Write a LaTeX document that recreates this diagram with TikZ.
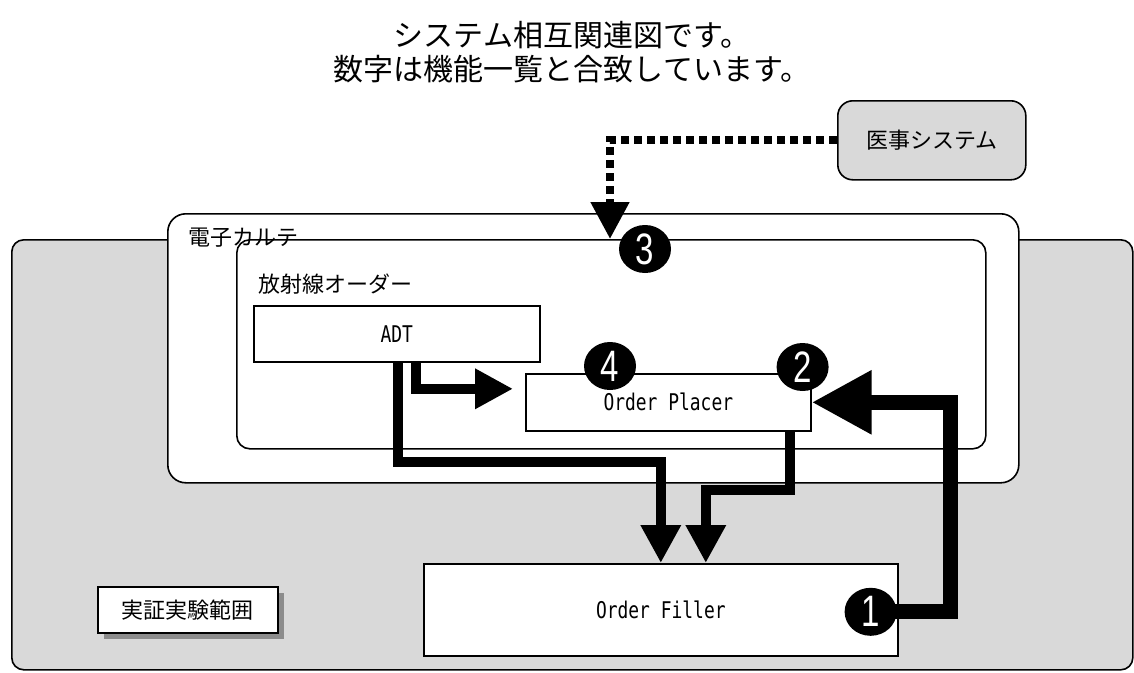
\documentclass[tikz,border=0pt]{standalone}
\usepackage{fontspec}
\usepackage{graphicx}
\setmainfont{Noto Sans CJK JP}
\newfontfamily\jpf{Noto Sans CJK JP}
\newfontfamily\monof{DejaVu Sans Mono}
\newfontfamily\numfont{Liberation Sans}
\usetikzlibrary{arrows.meta,shapes.geometric,calc,shadows}
\definecolor{regiongrey}{HTML}{D9D9D9}
\newcommand\lat[1]{\scalebox{0.78}[1]{\monof\fontsize{23}{23}\selectfont #1}}
\newcommand\dig[1]{\scalebox{0.75}[1]{\numfont\fontsize{44}{44}\selectfont #1}}
\tikzset{
  cont/.style={draw=black, line width=1.6pt},
  boxw/.style={draw=black, line width=1.6pt, fill=white, inner sep=0pt, anchor=north west},
  jplab/.style={font=\jpf\fontsize{22}{26}\selectfont, inner sep=0pt},
  arr/.style={line width=10pt, -{Triangle[length=38pt,width=38pt]}},
  bigarr/.style={line width=15pt, -{Triangle[length=60pt,width=60pt]}},
  dotarr/.style={line width=8pt, dash pattern=on 8pt off 5pt, -{Triangle[length=37pt,width=37pt]}},
  numc/.style={ellipse, fill=black, minimum width=52pt, minimum height=48pt, inner sep=0pt, text=white}
}
\begin{document}
\begin{tikzpicture}[x=1pt,y=-1pt]
\useasboundingbox (0,0) rectangle (1134,672);
\fill[white] (0,0) rectangle (1134,672);
% title
\node[font=\jpf\fontsize{30}{34}\selectfont, align=center, inner sep=0pt] (title) at (572,52) {システム相互関連図です。\\数字は機能一覧と合致しています。};
% grey region
\node[cont, fill=regiongrey, rounded corners=12pt, minimum width=1121pt, minimum height=430pt, anchor=north west, inner sep=0pt] (scopebox) at (11,239) {};
% 医事システム
\node[cont, fill=regiongrey, rounded corners=15pt, minimum width=188pt, minimum height=79pt, anchor=north west, inner sep=0pt] (IJ) at (837,100) {};
\node[jplab] (IJl) at (IJ.center) {医事システム};
% 電子カルテ
\node[cont, fill=white, rounded corners=18pt, minimum width=851pt, minimum height=269pt, anchor=north west, inner sep=0pt] (EMR) at (167,213) {};
\node[jplab, anchor=west] (EMRl) at (188,238) {電子カルテ};
% 放射線オーダー
\node[cont, rounded corners=13pt, minimum width=749pt, minimum height=209pt, anchor=north west, inner sep=0pt] (RAD) at (236,239) {};
\node[jplab, anchor=west] (RADl) at (258,284) {放射線オーダー};
% boxes
\node[boxw, minimum width=286pt, minimum height=56pt] (ADT) at (253,305) {};
\node (ADTl) at (ADT.center) {\lat{ADT}};
\node[boxw, minimum width=285pt, minimum height=57pt] (OP) at (525,373) {};
\node (OPl) at (OP.center) {\lat{Order Placer}};
\node[boxw, minimum width=474pt, minimum height=92pt] (OF) at (423,563) {};
\node (OFl) at (OF.center) {\lat{Order Filler}};
\node[boxw, minimum width=180pt, minimum height=46pt, drop shadow={shadow xshift=6pt, shadow yshift=-6pt, fill=black!45, opacity=1}] (SCL) at (97,586) {};
\node[jplab] (SCLt) at (SCL.center) {実証実験範囲};
% connectors
\draw[dotarr] (IJ.west) -| (RAD.north -| 610,0);
\draw[arr] ($(ADT.south)+(19,0)$) |- ($(OP.west)+(-12,-13.5)$);
\draw[arr] ($(ADT.south)+(1,0)$) |- ($(OF.north)+(0,-101)$) -- (OF.north);
\draw[arr] ($(OP.south)+(122,0)$) |- ($(OF.north)+(45,-73)$) -- ($(OF.north)+(45,0)$);
\draw[bigarr] ($(OF.east)+(-28,2)$) -| ($(OP.east)+(139,0)$) -- (OP.east);
% number marks
\node[numc] (n1) at ($(OF.east)+(-28,2)$) {\dig{1}};
\node[numc] (n2) at ($(OP.north east)+(-9,-6)$) {\dig{2}};
\node[numc] (n3) at ($(RAD.north west)+(409,10)$) {\dig{3}};
\node[numc] (n4) at ($(OP.north west)+(85,-7)$) {\dig{4}};
\end{tikzpicture}
\end{document}
